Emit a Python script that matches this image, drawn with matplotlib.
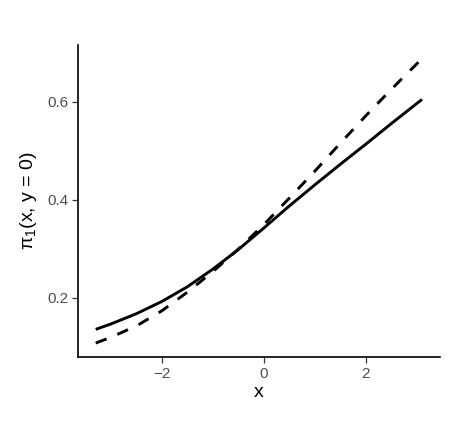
import matplotlib
matplotlib.use("Agg")
import matplotlib.pyplot as plt

plt.rcParams['font.family'] = ['Liberation Sans', 'DejaVu Sans']
plt.rcParams['mathtext.fontset'] = 'custom'
plt.rcParams['mathtext.rm'] = 'Liberation Sans'
plt.rcParams['mathtext.it'] = 'Liberation Sans:italic'

# 读图得到的数值
x_vals = [-3.3, -3.0, -2.5, -2.0, -1.5, -1.0, -0.5, 0.0, 0.5, 1.0, 1.5, 2.0, 2.5, 3.0, 3.1]
pi_solid = [0.136, 0.147, 0.168, 0.193, 0.223, 0.259, 0.299, 0.343, 0.388, 0.431, 0.473, 0.514, 0.556, 0.597, 0.605]
pi_dashed = [0.108, 0.120, 0.143, 0.174, 0.212, 0.254, 0.300, 0.350, 0.404, 0.459, 0.516, 0.572, 0.626, 0.678, 0.688]
x_ticks = [-2, 0, 2]
y_ticks = [0.2, 0.4, 0.6]

fig = plt.figure(figsize=(4.49, 4.21), dpi=100)
ax = fig.add_axes([0.1737, 0.152, 0.806, 0.741])

ax.plot(x_vals, pi_solid, color="black", linewidth=2.1, solid_capstyle="butt", solid_joinstyle="round")
ax.plot(x_vals, pi_dashed, color="black", linewidth=2.1, linestyle=(0, (4, 4)), dash_capstyle="butt")

ax.set_xlim(-3.647, 3.45)
ax.set_ylim(0.0796, 0.716)
ax.set_xticks(x_ticks)
ax.set_xticklabels(["\u22122", "0", "2"])
ax.set_yticks(y_ticks)
ax.set_yticklabels(["0.2", "0.4", "0.6"])

for side in ["top", "right"]:
    ax.spines[side].set_visible(False)
for side in ["left", "bottom"]:
    ax.spines[side].set_linewidth(1.2)
    ax.spines[side].set_color("black")

ax.tick_params(axis="both", length=4, width=0.9, color="#333333", labelcolor="#4D4D4D", labelsize=11, pad=3)

ax.set_xlabel("x", fontsize=14, labelpad=2)
ax.set_ylabel("\u03c0$_1$(x, y = 0)", fontsize=14, labelpad=6)

plt.savefig("out.png", dpi=100)
plt.close()
